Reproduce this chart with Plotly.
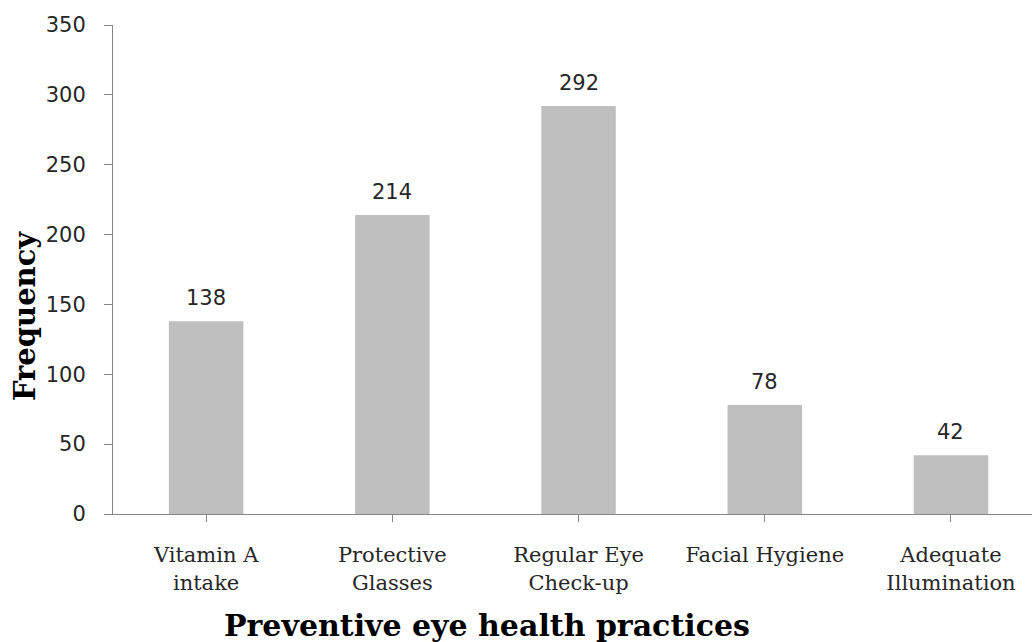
import plotly.graph_objects as go

categories = ["Vitamin A<br>intake", "Protective<br>Glasses", "Regular Eye<br>Check-up",
              "Facial Hygiene", "Adequate<br>Illumination"]
values = [138, 214, 292, 78, 42]
y_ticks = [0, 50, 100, 150, 200, 250, 300, 350]
x_title = "Preventive eye health practices"
y_title = "Frequency"

xs = list(range(len(categories)))

fig = go.Figure()
fig.add_trace(go.Bar(x=xs, y=values, width=0.4, marker=dict(color="#BFBFBF", line=dict(width=0)),
                     hoverinfo="skip"))

for x, v in zip(xs, values):
    fig.add_annotation(x=x, y=v, text=str(v), showarrow=False, yanchor="bottom", yshift=9,
                       font=dict(family="DejaVu Sans", size=21, color="#262626"))

W, H = 1032, 642
L, R, T, B = 113, 0, 25, 128
pw, ph = W - L - R, H - T - B

# axis titles placed as annotations (paper coords)
fig.add_annotation(x=(487 - L) / pw, y=(H - B - 625) / ph, xref="paper", yref="paper",
                   text=f"<b>{x_title}</b>", showarrow=False, xanchor="center", yanchor="middle",
                   font=dict(family="DejaVu Serif", size=30, color="black"))
fig.add_annotation(x=(25 - L) / pw, y=(H - B - 316) / ph, xref="paper", yref="paper",
                   text=f"<b>{y_title}</b>", showarrow=False, textangle=-90,
                   xanchor="center", yanchor="middle",
                   font=dict(family="DejaVu Serif", size=29, color="black"))

axis_color = "#868686"
fig.update_layout(
    width=W, height=H,
    margin=dict(l=L, r=R, t=T, b=B),
    paper_bgcolor="white", plot_bgcolor="white",
    showlegend=False,
    xaxis=dict(range=[-0.5, 4.435], tickvals=xs, ticktext=categories,
               showline=True, linecolor=axis_color, linewidth=1,
               ticks="outside", ticklen=7, tickcolor=axis_color,
               showgrid=False, zeroline=False, ticklabelstandoff=15,
               tickfont=dict(family="DejaVu Serif", size=21, color="#262626")),
    yaxis=dict(range=[0, 350], tickvals=y_ticks,
               showline=True, linecolor=axis_color, linewidth=1,
               ticks="outside", ticklen=8, tickcolor=axis_color,
               showgrid=False, zeroline=False, ticklabelstandoff=14,
               tickfont=dict(family="DejaVu Sans", size=21, color="#262626")),
)

fig.write_html("out.html")
